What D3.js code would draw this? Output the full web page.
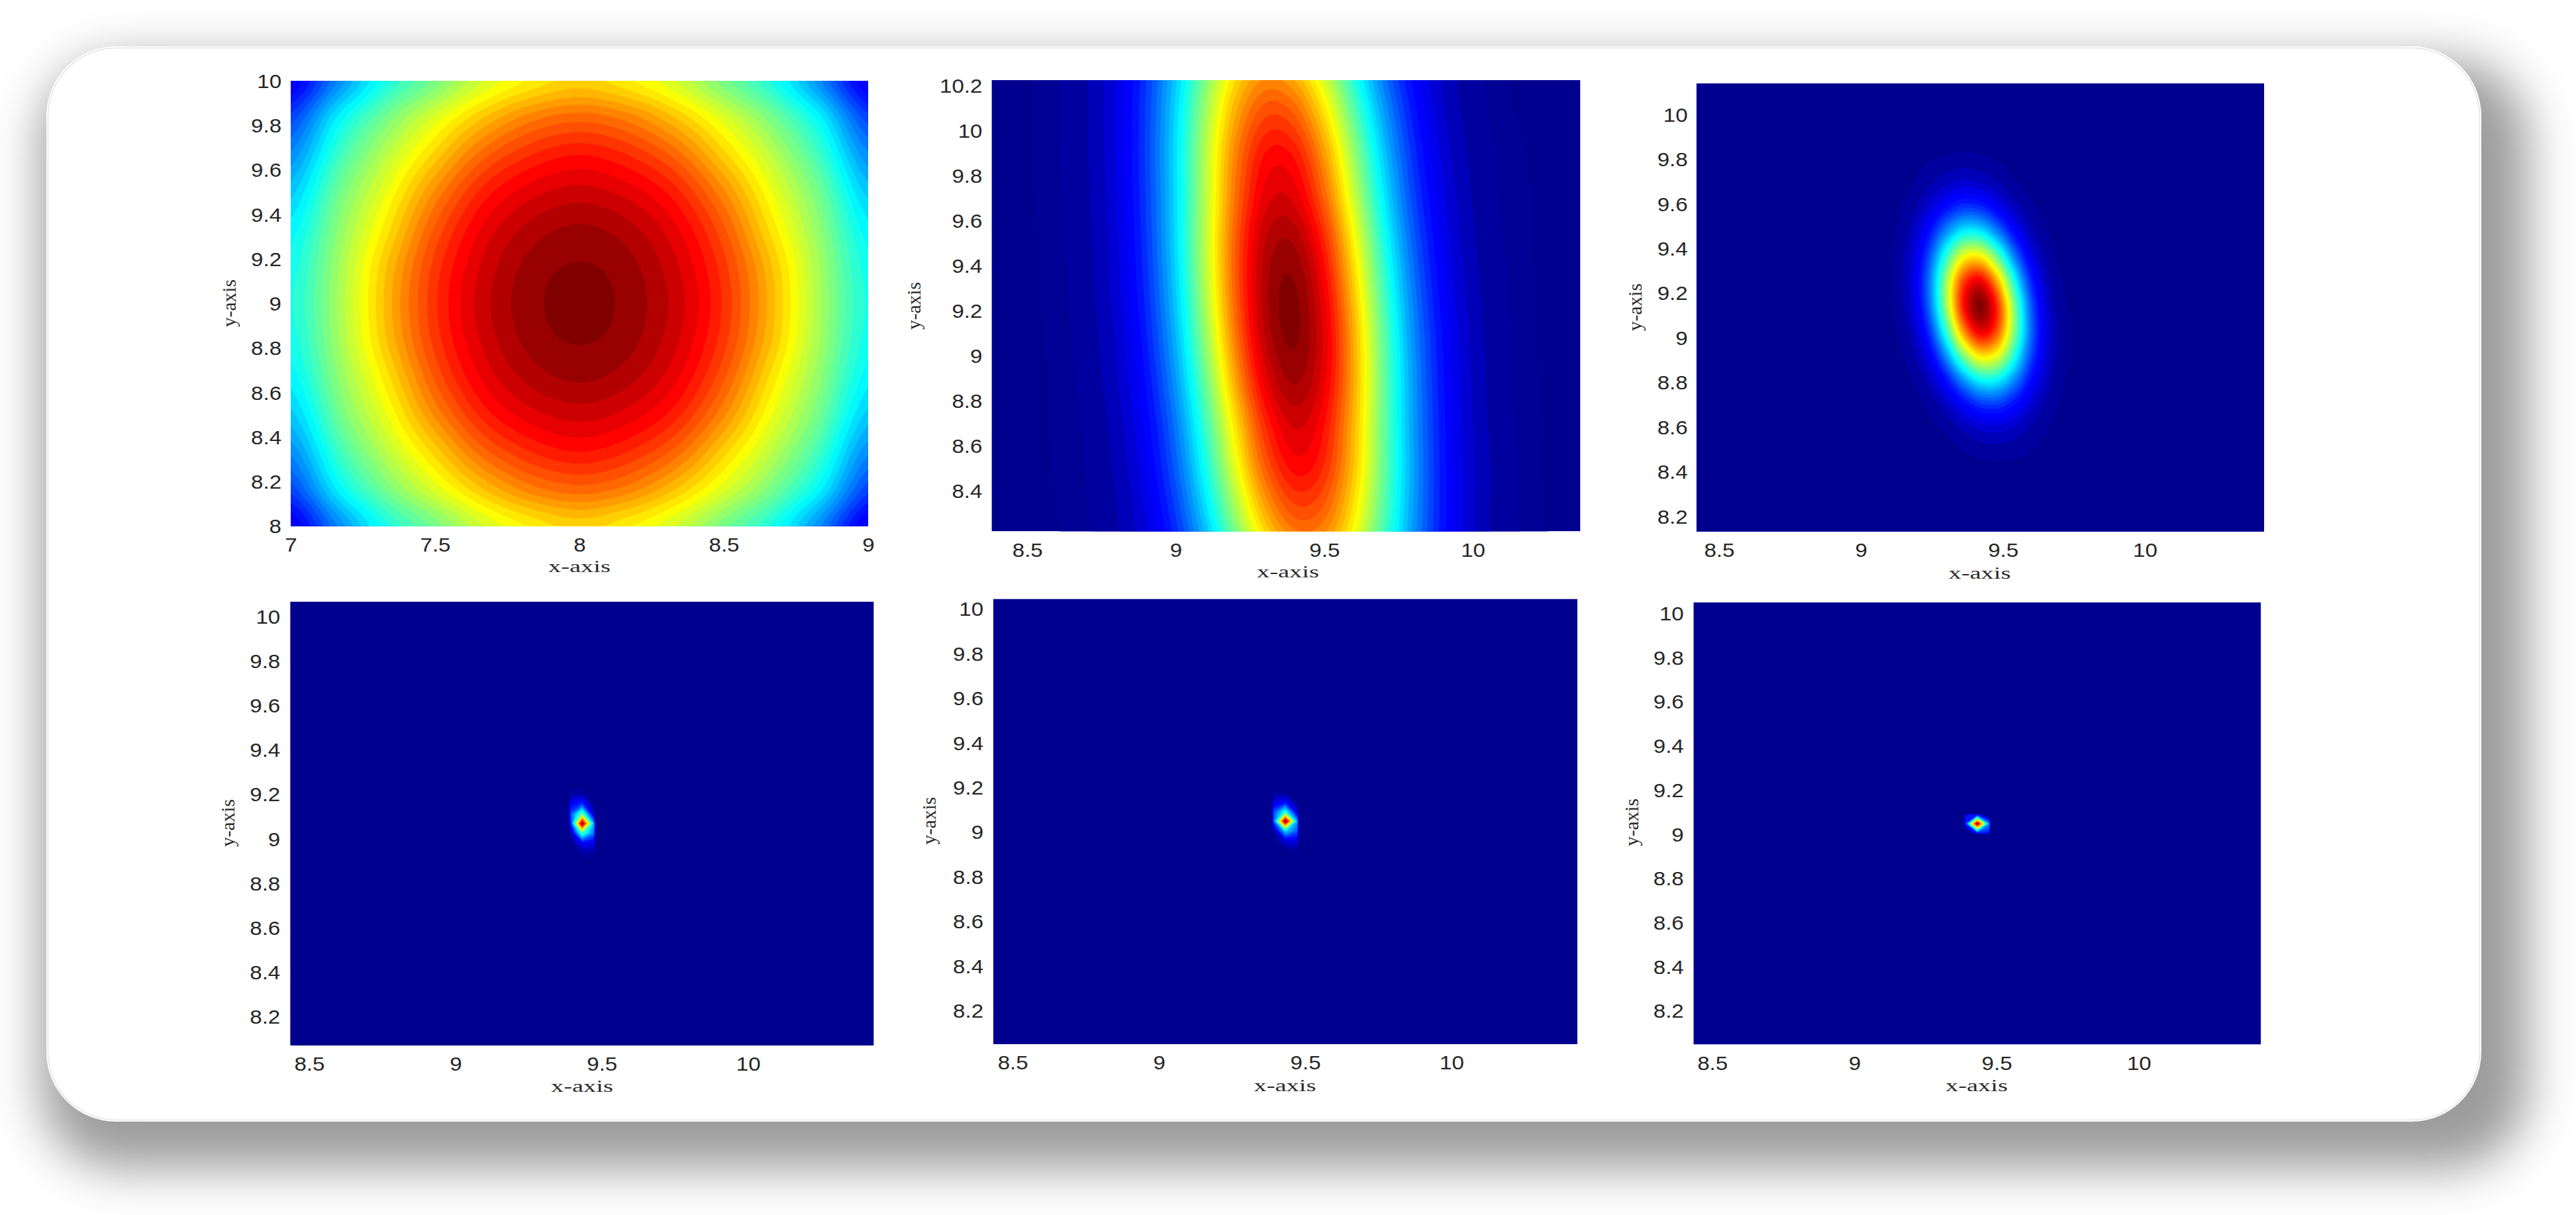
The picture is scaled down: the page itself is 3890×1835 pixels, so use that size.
<!DOCTYPE html>
<html>
<head>
<meta charset="utf-8">
<script src="https://cdn.jsdelivr.net/npm/d3@7"></script>
<style>
html,body{margin:0;padding:0;background:#fff;}
svg{display:block;}
.tick text{font-family:"Liberation Sans",Arial,sans-serif;fill:#262626;}
.lab{font-family:"Liberation Serif","Times New Roman",serif;fill:#2b2b2b;}
</style>
</head>
<body>
<script>
// ---------- values ----------
const xLabel = "x-axis";
const yLabel = "y-axis";

const p1XDomain = [7, 9],          p1YDomain = [8, 10];
const p2XDomain = [8.38, 10.362],  p2YDomain = [8.219, 10.225];
const p3XDomain = [8.42, 10.42],   p3YDomain = [8.131, 10.139];
const p4XDomain = [8.435, 10.43],  p4YDomain = [8.069, 10.067];
const p5XDomain = [8.434, 10.43],  p5YDomain = [8.049, 10.044];
const p6XDomain = [8.434, 10.429], p6YDomain = [8.047, 10.049];

const p1XTicks = [7, 7.5, 8, 8.5, 9];
const p1YTicks = [8, 8.2, 8.4, 8.6, 8.8, 9, 9.2, 9.4, 9.6, 9.8, 10];
const p2XTicks = [8.5, 9, 9.5, 10];
const p2YTicks = [8.4, 8.6, 8.8, 9, 9.2, 9.4, 9.6, 9.8, 10, 10.2];
const lowerXTicks = [8.5, 9, 9.5, 10];
const lowerYTicks = [8.2, 8.4, 8.6, 8.8, 9, 9.2, 9.4, 9.6, 9.8, 10];

// Normalised field strength, top row first.
// GridX / GridY give the x and y of the matrix nodes (two entries: evenly spaced).
const p1GridX = [7, 9],        p1GridY = [10, 8];
const p1Values = [
 [.11,.27,.41,.50,.59,.645,.675,.645,.59,.50,.41,.27,.11],
 [.20,.375,.50,.60,.69,.755,.78,.755,.69,.60,.50,.375,.20],
 [.27,.44,.565,.675,.78,.84,.865,.84,.78,.675,.565,.44,.27],
 [.33,.49,.615,.745,.85,.905,.925,.905,.85,.745,.615,.49,.33],
 [.375,.52,.655,.795,.895,.95,.97,.95,.895,.795,.655,.52,.375],
 [.40,.54,.69,.825,.92,.975,.992,.975,.92,.825,.69,.54,.40],
 [.41,.545,.70,.835,.93,.982,1.0,.982,.93,.835,.70,.545,.41],
 [.40,.54,.69,.825,.92,.975,.992,.975,.92,.825,.69,.54,.40],
 [.375,.52,.655,.795,.895,.95,.97,.95,.895,.795,.655,.52,.375],
 [.33,.49,.615,.745,.85,.905,.925,.905,.85,.745,.615,.49,.33],
 [.27,.44,.565,.675,.78,.84,.865,.84,.78,.675,.565,.44,.27],
 [.20,.375,.50,.60,.69,.755,.78,.755,.69,.60,.50,.375,.20],
 [.11,.27,.41,.50,.59,.645,.675,.645,.59,.50,.41,.27,.11]
];

const p2GridX = [8.5, 10.3],   p2GridY = [10.3, 8.1];
const p2Values = [
 [.004,.014,.039,.091,.186,.328,.496,.645,.719,.687,.565,.398,.241,.125,.057,.021,.007,.002,.001],
 [.004,.014,.038,.093,.193,.348,.534,.705,.799,.777,.649,.465,.287,.151,.068,.026,.008,.003,.001],
 [.004,.013,.038,.092,.196,.357,.559,.750,.865,.857,.727,.530,.332,.178,.082,.033,.011,.004,.001],
 [.004,.012,.035,.089,.192,.354,.563,.769,.902,.907,.784,.581,.370,.202,.095,.038,.013,.005,.001],
 [.003,.011,.033,.084,.186,.352,.568,.788,.940,.962,.845,.637,.412,.229,.109,.045,.016,.005,.001],
 [.003,.010,.030,.080,.176,.339,.557,.787,.954,.993,.886,.680,.448,.253,.123,.051,.018,.006,.001],
 [.003,.009,.027,.071,.162,.317,.531,.763,.942,.996,.906,.708,.475,.273,.135,.057,.021,.006,.002],
 [.002,.008,.023,.063,.145,.288,.490,.718,.901,.971,.898,.714,.486,.285,.143,.061,.023,.007,.002],
 [.002,.007,.019,.053,.126,.255,.443,.658,.841,.921,.867,.700,.485,.289,.148,.065,.024,.008,.002],
 [.002,.006,.016,.046,.110,.227,.401,.605,.785,.874,.836,.687,.484,.294,.151,.068,.027,.008,.002],
 [.001,.005,.014,.038,.093,.193,.348,.534,.705,.799,.777,.649,.465,.287,.151,.068,.026,.009,.002],
 [.001,.004,.011,.031,.076,.161,.293,.459,.616,.712,.704,.598,.435,.273,.147,.067,.027,.012,.003]
];

const p3GridX = [9.06, 9.78],  p3GridY = [9.91, 8.37];
const p3Values = [
 [0,0,0,0,0,0,0,0,0,0,0,0,0],
 [0,.002,.006,.013,.021,.025,.021,.013,.006,.002,0,0,0],
 [0,.005,.015,.036,.062,.077,.068,.044,.020,.007,.002,0,0],
 [0,.009,.032,.081,.146,.191,.180,.122,.060,.021,.005,.001,0],
 [0,.015,.056,.147,.279,.383,.379,.270,.139,.052,.014,.003,0],
 [0,.020,.076,.214,.430,.622,.649,.489,.266,.104,.030,.006,0],
 [0,.021,.086,.251,.532,.813,.897,.713,.410,.170,.050,.011,0],
 [0,.018,.077,.238,.532,.858,1.00,.840,.509,.222,.070,.016,0],
 [0,.013,.056,.181,.430,.732,.900,.799,.511,.236,.079,.019,0],
 [0,.007,.033,.112,.280,.504,.654,.613,.414,.202,.071,.018,0],
 [0,.003,.015,.056,.147,.279,.383,.379,.270,.139,.052,.014,0],
 [0,.001,.006,.023,.063,.127,.182,.189,.142,.077,.030,.008,0],
 [0,0,.002,.007,.022,.046,.070,.076,.060,.035,.014,.004,0],
 [0,0,0,.002,.006,.013,.022,.025,.021,.013,.005,.002,0],
 [0,0,0,0,0,0,0,0,0,0,0,0,0]
];

const p4GridX = [9.3855, 9.3934, 9.433, 9.4726, 9.4805];
const p4GridY = [9.247, 8.890];
const p4Values = [
 [0,0,0,0,0],
 [0,.02,.03,.005,0],
 [0,.12,.18,0,0],
 [0,.20,.48,.06,0],
 [0,.16,1.0,.30,0],
 [0,.03,.45,.25,0],
 [0,0,.12,.10,0],
 [0,0,.02,.03,0],
 [0,0,0,0,0]
];

const p5GridX = [9.384, 9.392, 9.432, 9.472, 9.480];
const p5GridY = [9.226, 8.870];
const p5Values = [
 [0,0,0,0,0],
 [0,.01,.005,0,0],
 [0,.08,.12,.01,0],
 [0,.20,.40,.08,0],
 [0,.22,1.0,.30,0],
 [0,.03,.35,.22,0],
 [0,0,.08,.10,0],
 [0,0,.005,.02,0],
 [0,0,0,0,0]
];

const p6GridX = [9.3828, 9.391, 9.432, 9.473, 9.4812];
const p6GridY = [9.093, 9.087, 9.047, 9.003, 8.996];
const p6Values = [
 [0,0,0,0,0],
 [0,.13,.16,0,0],
 [0,.17,1.0,.28,0],
 [0,0,.14,.14,0],
 [0,0,0,0,0]
];

// ---------- layout ----------
const W = 3890, H = 1835;
const sx = 1.14;                // the source image is stretched sideways
const panels = [
 {xd:p1XDomain,yd:p1YDomain,xt:p1XTicks,yt:p1YTicks,gx:p1GridX,gy:p1GridY,v:p1Values,k:6,levels:[],floor:.01,
  box:[439,122,1311,794.5],xlab:[875,855],ylab:[348,458],tr:14},
 {xd:p2XDomain,yd:p2YDomain,xt:p2XTicks,yt:p2YTicks,gx:p2GridX,gy:p2GridY,v:p2Values,k:6,levels:[.005],floor:.01,
  box:[1497.4,121,2386.5,802.4],xlab:[1945,863],ylab:[1382,462],tr:14},
 {xd:p3XDomain,yd:p3YDomain,xt:lowerXTicks,yt:lowerYTicks,gx:p3GridX,gy:p3GridY,v:p3Values,k:6,levels:[],floor:.012,
  box:[2561.6,125.8,3419,803],xlab:[2989.5,864.7],ylab:[2471,464],tr:13},
 {xd:p4XDomain,yd:p4YDomain,xt:lowerXTicks,yt:lowerYTicks,gx:p4GridX,gy:p4GridY,v:p4Values,k:1,levels:[],floor:.012,
  box:[438.2,908.6,1319.6,1579],xlab:[879,1640],ylab:[345.6,1243],tr:15},
 {xd:p5XDomain,yd:p5YDomain,xt:lowerXTicks,yt:lowerYTicks,gx:p5GridX,gy:p5GridY,v:p5Values,k:1,levels:[],floor:.012,
  box:[1500,904.5,2382,1577],xlab:[1940.4,1638.7],ylab:[1405,1239.7],tr:15},
 {xd:p6XDomain,yd:p6YDomain,xt:lowerXTicks,yt:lowerYTicks,gx:p6GridX,gy:p6GridY,v:p6Values,k:1,levels:[],floor:.07,
  box:[2557.3,909.6,3414,1577.5],xlab:[2985,1638.7],ylab:[2466.4,1242],tr:14.6}
];

// ---------- helpers ----------
const clamp01 = v => Math.max(0, Math.min(1, v));
function jet(t){
  const r = clamp01(Math.min(4*t-1.5, 4.5-4*t));
  const g = clamp01(Math.min(4*t-0.5, 3.5-4*t));
  const b = clamp01(Math.min(4*t+0.5625, 2.5-4*t));
  return d3.rgb(r*255, g*255, b*255).formatRgb();
}
// cubic through the read values, the same job as MATLAB's interpolated shading
function cr1(a, k){
  if (k === 1) return a.slice();
  const out = [], n = a.length;
  for (let i = 0; i < n-1; i++){
    const p0=a[Math.max(i-1,0)], p1=a[i], p2=a[i+1], p3=a[Math.min(i+2,n-1)];
    for (let j = 0; j < k; j++){
      const t=j/k;
      out.push(.5*(2*p1+(p2-p0)*t+(2*p0-5*p1+4*p2-p3)*t*t+(3*p1-p0-3*p2+p3)*t*t*t));
    }
  }
  out.push(a[n-1]);
  return out;
}
function refine(m, k){
  const rows = m.map(r => cr1(r,k));
  const cols = rows[0].map((_,c) => cr1(rows.map(r=>r[c]),k));
  return cols[0].map((_,r) => cols.map(c=>c[r]));
}

// ---------- draw ----------
const svg = d3.select("body").append("svg").attr("width",W).attr("height",H).attr("viewBox",`0 0 ${W} ${H}`);
const defs = svg.append("defs");
defs.append("filter").attr("id","sh").attr("x","-5%").attr("y","-12%").attr("width","110%").attr("height","124%")
  .append("feGaussianBlur").attr("stdDeviation",36);

svg.append("rect").attr("x",62).attr("y",90).attr("width",3755).attr("height",1675).attr("rx",120)
  .attr("fill","#000").attr("fill-opacity",.39).attr("filter","url(#sh)");
svg.append("rect").attr("x",70).attr("y",70).attr("width",3677).attr("height",1624).attr("rx",105)
  .attr("fill","#fff");
svg.append("rect").attr("x",72.5).attr("y",72.5).attr("width",3672).attr("height",1619).attr("rx",103)
  .attr("fill","none").attr("stroke","#e4e4e4").attr("stroke-width",1.5);

panels.forEach((p,i) => {
  const [x0,y0,x1,y1] = p.box;
  const x = d3.scaleLinear().domain(p.xd).range([x0,x1]);
  const y = d3.scaleLinear().domain(p.yd).range([y1,y0]);
  const g = svg.append("g");
  defs.append("clipPath").attr("id","c"+i).append("rect")
    .attr("x",x0).attr("y",y0).attr("width",x1-x0).attr("height",y1-y0);

  const plot = g.append("g").attr("clip-path",`url(#c${i})`);
  plot.append("rect").attr("x",x0).attr("y",y0).attr("width",x1-x0).attr("height",y1-y0).attr("fill",jet(0));

  const m = refine(p.v, p.k);
  const nr = m.length, nc = m[0].length;
  const gridX = d3.scaleLinear().domain(p.gx.map((_,j) => j*(nc-1)/(p.gx.length-1))).range(p.gx);
  const gridY = d3.scaleLinear().domain(p.gy.map((_,j) => j*(nr-1)/(p.gy.length-1))).range(p.gy);
  const thresholds = p.levels.concat(d3.range(.99, p.floor, -.025).reverse());
  const contours = d3.contours().size([nc,nr]).thresholds(thresholds)(m.flat());
  const path = d3.geoPath(d3.geoTransform({
    point(px,py){ this.stream.point(x(gridX(px-.5)), y(gridY(py-.5))); }
  }));
  plot.selectAll("path").data(contours).join("path")
    .attr("d",path)
    .attr("fill",d => jet(d.value*1.0101));

  const ax = g.append("g").attr("transform",`translate(0,${y1})`)
    .call(d3.axisBottom(x).tickValues(p.xt).tickSize(0).tickFormat(String));
  ax.select(".domain").remove();
  ax.attr("font-family",null);
  ax.selectAll("text").attr("y",28).attr("dy",".36em").attr("font-size",29).attr("transform",`scale(${sx},1)`);

  const ay = g.append("g").attr("transform",`translate(${x0},0)`)
    .call(d3.axisLeft(y).tickValues(p.yt).tickSize(0).tickFormat(String));
  ay.select(".domain").remove();
  ay.attr("font-family",null);
  ay.selectAll("text").attr("x",-p.tr/sx).attr("dy",".36em").attr("font-size",29).attr("transform",`scale(${sx},1)`);

  g.append("text").attr("class","lab").attr("text-anchor","middle").attr("font-size",26)
    .attr("transform",`translate(${p.xlab[0]},${p.xlab[1]+9}) scale(1.48,1)`).text(xLabel);
  g.append("text").attr("class","lab").attr("text-anchor","middle").attr("font-size",29.5)
    .attr("transform",`translate(${p.ylab[0]+8},${p.ylab[1]}) rotate(-90)`).text(yLabel);
});
</script>
</body>
</html>
